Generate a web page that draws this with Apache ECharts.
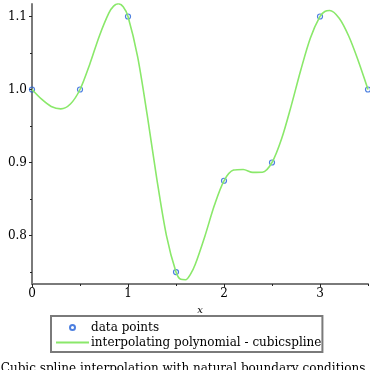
<!DOCTYPE html>
<html>
<head>
<meta charset="utf-8">
<script src="https://cdn.jsdelivr.net/npm/echarts@6/dist/echarts.min.js"></script>
<style>html,body{margin:0;padding:0;background:#fff}#c{width:370px;height:370px}</style>
</head>
<body>
<div id="c"></div>
<script>
// data points
var pointX = [0, 0.5, 1, 1.5, 2, 2.5, 3, 3.5];
var pointY = [1.0, 1.0, 1.1, 0.75, 0.875, 0.9, 1.1, 1.0];
// interpolating curve
var curveX = [0, 0.1, 0.2, 0.3, 0.4, 0.5, 0.6, 0.7, 0.8, 0.85, 0.9, 0.95, 1.0, 1.1, 1.2, 1.3, 1.4, 1.5, 1.55, 1.6, 1.65, 1.7, 1.8, 1.9, 2.0, 2.1, 2.2, 2.3, 2.4, 2.5, 2.6, 2.7, 2.8, 2.9, 3.0, 3.05, 3.1, 3.2, 3.3, 3.4, 3.5];
var curveY = [1.0, 0.9867, 0.9768, 0.9735, 0.9801, 1.0, 1.0340, 1.0727, 1.1045, 1.1141, 1.1175, 1.1133, 1.1, 1.0450, 0.9651, 0.8777, 0.8002, 0.75, 0.7400, 0.7395, 0.7468, 0.7602, 0.7987, 0.8414, 0.875, 0.8896, 0.8905, 0.8865, 0.8867, 0.9, 0.9324, 0.9776, 1.0267, 1.0706, 1.1, 1.1068, 1.1082, 1.0976, 1.0729, 1.0388, 1.0];
var xMajorTicks = [0, 1, 2, 3];
var xMinorTicks = [0.5, 1.5, 2.5, 3.5];
var yMajorTicks = [0.8, 0.9, 1.0, 1.1];
var yMinorTicks = [0.75, 0.85, 0.95, 1.05];
var seriesNames = ['data points', 'interpolating polynomial - cubicspline'];
var captionText = 'Cubic spline interpolation with natural boundary conditions.';

var FONT = 'DejaVu Serif';
var chart = echarts.init(document.getElementById('c'), null, {renderer: 'canvas'});
var xMin = 0, xMax = 3.5, yMin = 0.7336, yMax = 1.1171;
function pairs(xs, ys) { return xs.map(function (x, i) { return [x, ys[i]]; }); }
var axisLineStyle = {color: '#7a7a7a', width: 2};
chart.setOption({
  animation: false,
  backgroundColor: '#fff',
  grid: {left: 32, right: 2, top: 4, bottom: 86},
  xAxis: [{
    type: 'value', min: xMin, max: xMax,
    name: 'x', nameLocation: 'middle', nameGap: 21,
    nameTextStyle: {fontFamily: FONT, fontStyle: 'italic', fontSize: 10, color: '#000'},
    axisLine: {lineStyle: axisLineStyle},
    axisTick: {customValues: xMajorTicks, length: 3, lineStyle: {color: '#222', width: 1}},
    axisLabel: {customValues: xMajorTicks, fontFamily: FONT, fontSize: 12, color: '#000', margin: 4},
    splitLine: {show: false}
  }, {
    type: 'value', min: xMin, max: xMax, position: 'bottom',
    axisLine: {show: false},
    axisTick: {customValues: xMinorTicks, length: 2, lineStyle: {color: '#222', width: 1}},
    axisLabel: {show: false}, splitLine: {show: false}
  }],
  yAxis: [{
    type: 'value', min: yMin, max: yMax,
    axisLine: {show: true, lineStyle: axisLineStyle},
    axisTick: {show: true, customValues: yMajorTicks, length: 3, lineStyle: {color: '#222', width: 1}},
    axisLabel: {customValues: yMajorTicks, fontFamily: FONT, fontSize: 12, color: '#000', margin: 5,
      formatter: function (v) { return v.toFixed(1); }},
    splitLine: {show: false}
  }, {
    type: 'value', min: yMin, max: yMax, position: 'left',
    axisLine: {show: false},
    axisTick: {show: true, customValues: yMinorTicks, length: 2, lineStyle: {color: '#222', width: 1}},
    axisLabel: {show: false}, splitLine: {show: false}
  }],
  legend: {
    orient: 'vertical', left: 51, top: 316,
    data: [
      {name: seriesNames[0]},
      {name: seriesNames[1], itemStyle: {color: 'rgba(0,0,0,0)', borderColor: 'rgba(0,0,0,0)', borderWidth: 0}}
    ],
    itemWidth: 33, itemHeight: 5, itemGap: 2,
    padding: [5, 1, 3, 4],
    borderColor: '#7a7a7a', borderWidth: 2, borderRadius: 0,
    textStyle: {fontFamily: FONT, fontSize: 12, color: '#000', lineHeight: 13, padding: [0, 0, 0, -3]}
  },
  title: {
    text: captionText, left: 'center', top: 358,
    textStyle: {fontFamily: FONT, fontSize: 12, fontWeight: 'normal', color: '#000'}
  },
  series: [{
    name: seriesNames[0], type: 'scatter', xAxisIndex: 0, yAxisIndex: 0,
    symbol: 'circle', symbolSize: 5, z: 3,
    itemStyle: {color: 'rgba(0,0,0,0)', borderColor: '#1f5fd8', borderWidth: 1.2},
    data: pairs(pointX, pointY)
  }, {
    name: seriesNames[1], type: 'line', xAxisIndex: 0, yAxisIndex: 0,
    symbol: 'none', smooth: 0.3, z: 4,
    lineStyle: {color: '#8ae86a', width: 1.6},
    itemStyle: {color: '#8ae86a'},
    data: pairs(curveX, curveY)
  }]
});
</script>
</body>
</html>
